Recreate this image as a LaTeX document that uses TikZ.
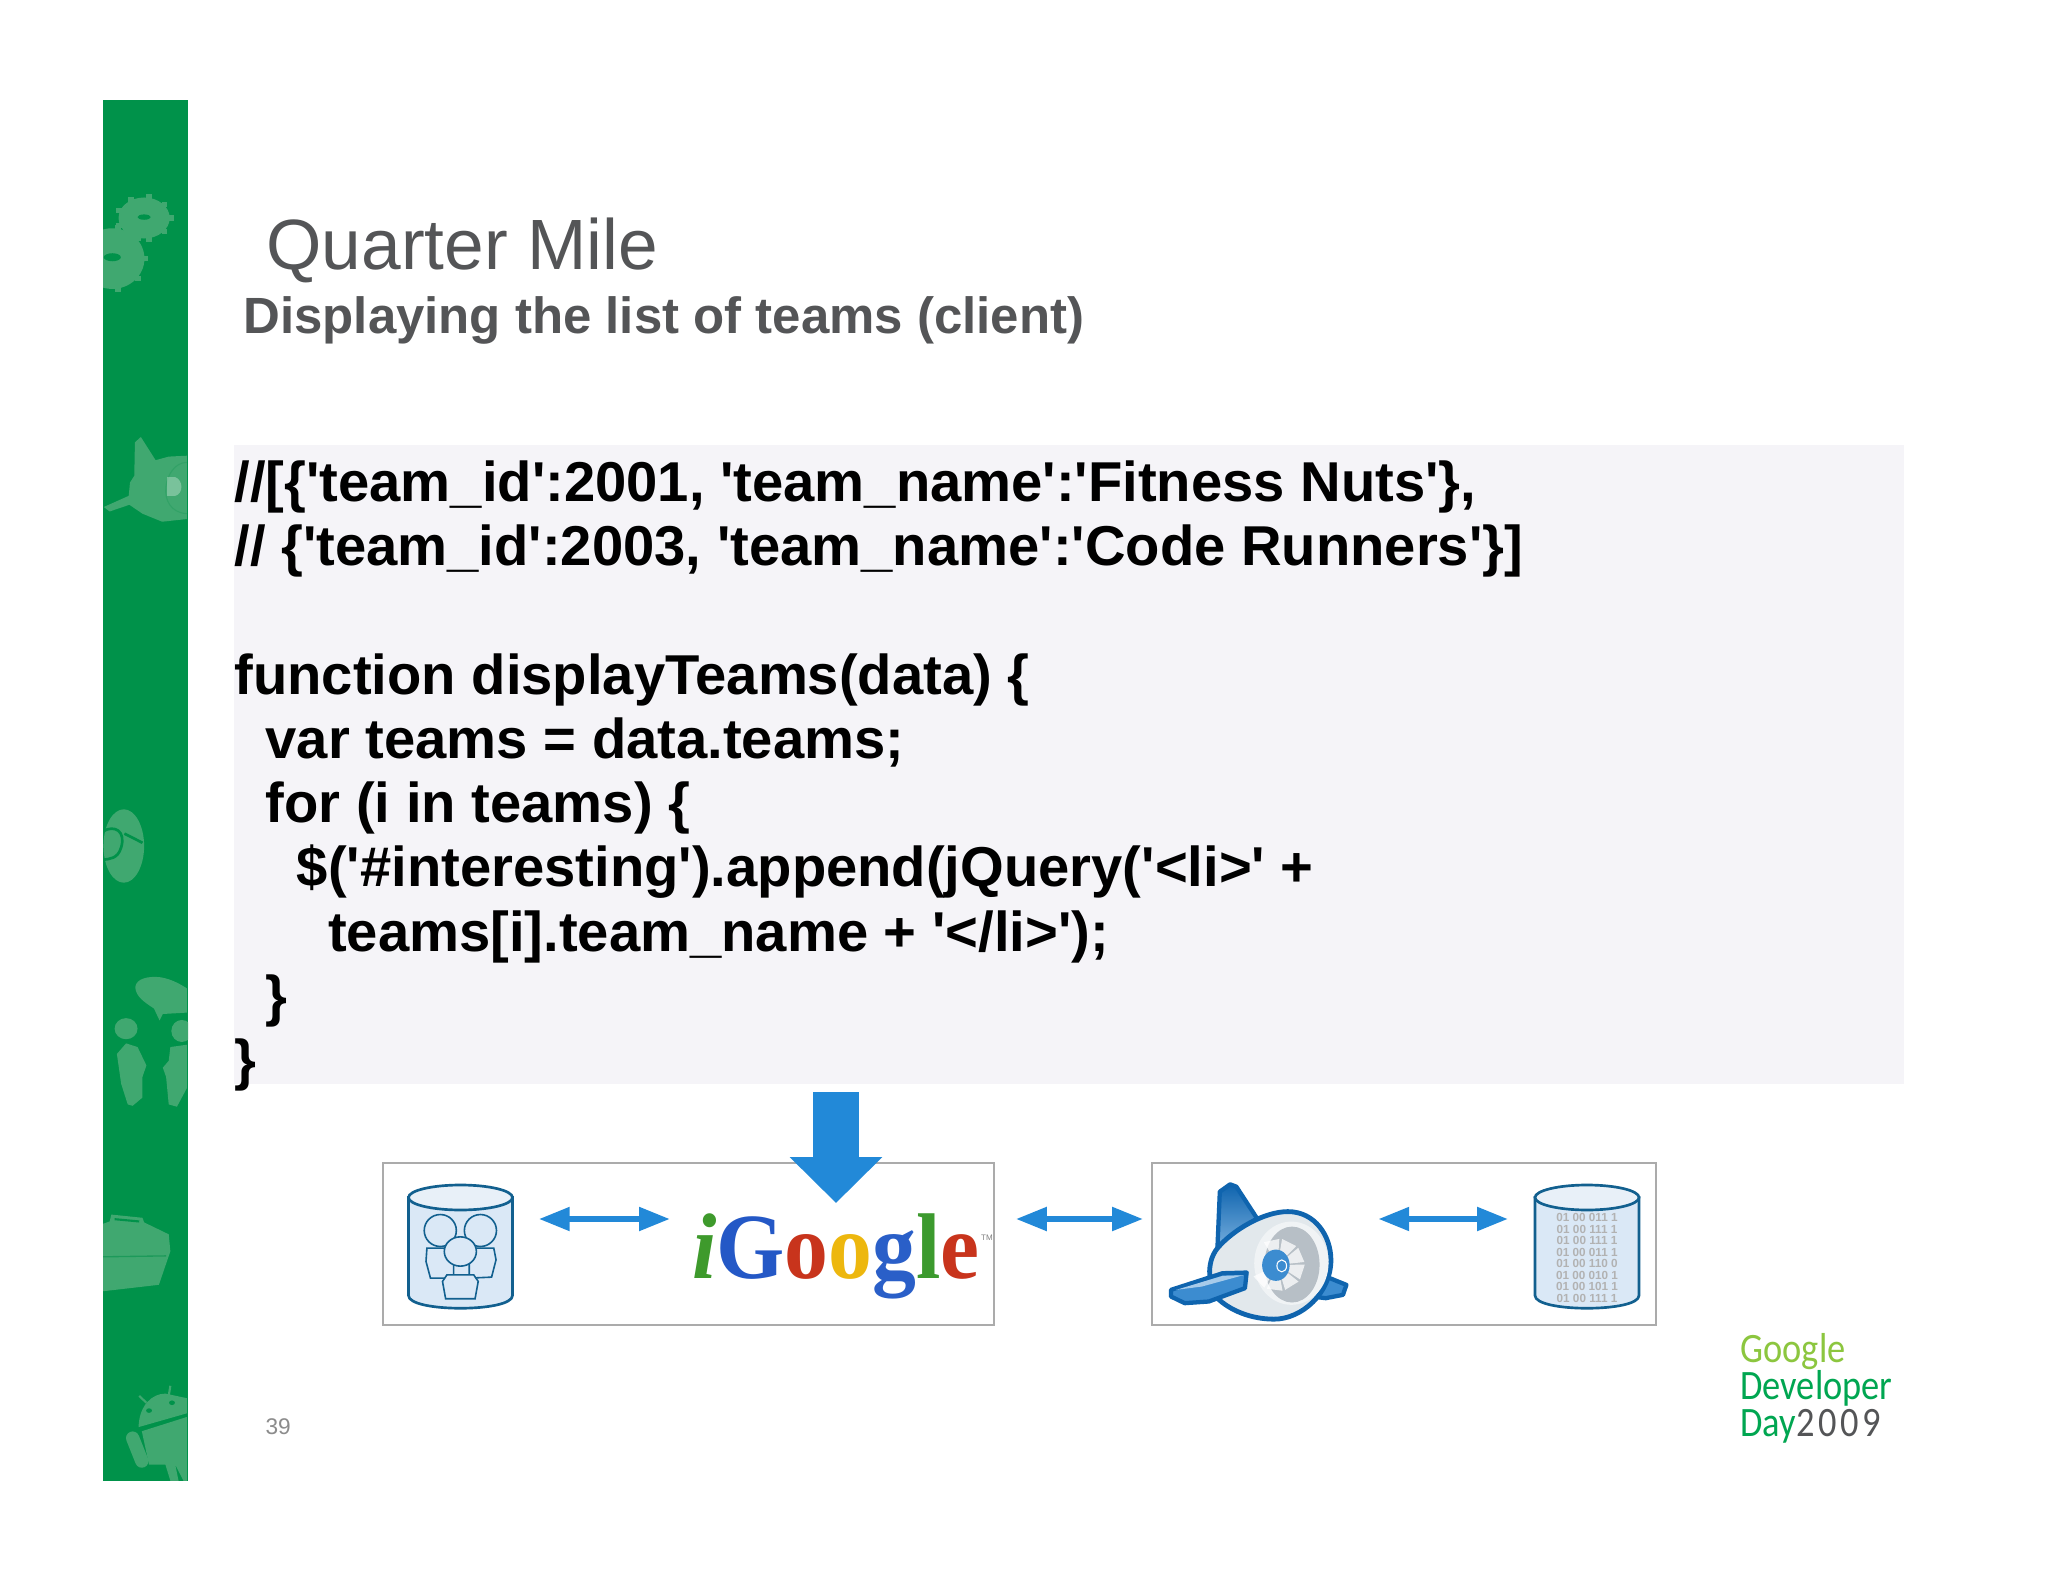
\documentclass[tikz,border=0pt]{standalone}
\usepackage{fontspec}
\usetikzlibrary{arrows.meta}
\usetikzlibrary{calc}
\newfontfamily\slidefont{Liberation Sans}
\newfontfamily\logofont{Carlito}
\newfontfamily\igooglefont{Liberation Serif}
\definecolor{barGreen}{HTML}{00924A}
\definecolor{barMark}{HTML}{40A870}
\definecolor{barDark}{HTML}{1D9A5A}
\definecolor{panelGrey}{HTML}{F5F4F8}
\definecolor{titleGrey}{HTML}{545557}
\definecolor{arrowBlue}{HTML}{2289D8}
\definecolor{boxGrey}{HTML}{ABABAB}
\definecolor{dbLine}{HTML}{12608F}
\definecolor{dbBody}{HTML}{DAE8F6}
\definecolor{dbTop}{HTML}{E8F0F8}
\definecolor{engineBlue}{HTML}{0F64AE}
\definecolor{engineFill}{HTML}{3C8CD0}
\definecolor{engineBody}{HTML}{E2E8EC}
\definecolor{engineRing}{HTML}{F0F3F5}
\definecolor{engineCore}{HTML}{B7BFC6}
\newcommand{\dbdrum}[1]{
	\begin{scope}[shift={(#1.center)}]
		\filldraw[dbsurface, fill=dbBody] (-52,-49) -- (-52,49) .. controls (-52,66) and (52,66) .. (52,49) -- (52,-49) -- cycle;
		\filldraw[dbsurface, fill=dbTop] (0,-49) ellipse (52 and 12.5);
	\end{scope}
}

\begin{document}
\begin{tikzpicture}[x=0.375pt, y=-0.375pt,
			slidetext/.style={anchor=base west, inner sep=0pt, font=\slidefont},
			framebox/.style={draw=boxGrey, line width=0.9pt, fill=white, rectangle, inner sep=0pt},
			link/.style={draw=arrowBlue, line width=2pt, {Triangle[length=11.5pt, width=8.6pt]}-{Triangle[length=11.5pt, width=8.6pt]}},
			dbnode/.style={rectangle, minimum width=39pt, minimum height=46.4pt, inner sep=0pt},
			dbsurface/.style={draw=dbLine, line width=1pt},
			person/.style={draw=dbLine, line width=0.6pt, fill=dbBody},
			gletter/.style={font=\igooglefont\bfseries\fontsize{35}{35}\selectfont}]
	\useasboundingbox (0,0) rectangle (2048,1582);
	\fill[white] (0,0) rectangle (2048,1582);

	% green side bar
	\fill[barGreen] (103,100.5) rectangle (188,1481);
	\begin{scope}
		\clip (103,100.5) rectangle (188,1481);
		\begin{scope}[shift={(90,90)}, xscale=0.328, yscale=0.446]
			% gears
			\foreach \cx/\cy/\rx/\ry in {165/287/78/46, 68/378/98/68}{
				\fill[barMark] (\cx,\cy) ellipse ({\rx} and {\ry});
				\foreach \a in {0,40,...,320}
					\fill[barMark] ({\cx+(\rx+3)*cos(\a)-9},{\cy+(\ry+2)*sin(\a)-6}) rectangle ++(18,12);
			}
			\fill[barGreen] (165,285) ellipse (20 and 6);
			\fill[barGreen] (68,375) ellipse (26 and 9);
			% plane
			\fill[barMark] (42,935) -- (118,910) -- (122,880) -- (135,865) -- (137,790) -- (155,778) -- (200,830) -- (240,822) -- (295,820) -- (295,962) -- (220,968) -- (160,950) -- (120,930) -- (60,945) -- cycle;
			\draw[barDark!40!barMark, line width=0.4pt] (295,835) .. controls (225,835) and (195,945) .. (295,950);
			\fill[white, opacity=0.3] (235,868) -- (260,868) .. controls (285,875) and (285,905) .. (260,910) -- (235,910) -- cycle;
		\end{scope}
		\begin{scope}[shift={(90,790)}, xscale=0.328, yscale=0.459]
			% disc
			\fill[barMark] (103,122) ellipse (62 and 80);
			\draw[barGreen, line width=1pt] (105,95) -- (160,115);
			\draw[barGreen, line width=1pt] (40,90) .. controls (75,75) and (110,90) .. (95,125) .. controls (85,150) and (60,150) .. (40,152);
			% speech bubble and people
			\fill[barMark] (138,430) .. controls (140,410) and (180,405) .. (215,408) .. controls (250,412) and (280,425) .. (295,432) -- (295,485) -- (222,488) -- (212,502) -- (195,476) .. controls (165,462) and (140,450) .. (138,430) -- cycle;
			\fill[barMark] (110,520) ellipse (35 and 23);
			\fill[barMark] (280,525) ellipse (32 and 24);
			\fill[barMark] (82,575) -- (110,552) -- (145,560) -- (172,600) -- (160,625) -- (160,670) -- (130,688) -- (115,685) -- (95,640) -- cycle;
			\fill[barMark] (222,605) -- (240,590) -- (245,560) -- (295,555) -- (295,650) -- (265,690) -- (240,685) -- (232,625) -- cycle;
			% briefcase
			\fill[barMark] (40,945) -- (60,940) -- (65,925) -- (160,932) -- (165,942) -- (240,968) -- (245,1005) -- (210,1078) -- (40,1092) -- cycle;
			\draw[barDark, line width=0.5pt] (40,1017) -- (232,1015);
			\draw[barGreen, line width=0.8pt] (75,935) -- (150,940);
			% android
			\fill[barMark] (148,1388) .. controls (150,1340) and (190,1315) .. (230,1315) -- (295,1325) -- (295,1358) -- cycle;
			\fill[barMark] (158,1397) -- (295,1366) -- (295,1505) -- (285,1505) -- (260,1470) -- (270,1505) -- (245,1505) -- (230,1470) -- (180,1470) -- cycle;
			\draw[barMark, line width=5pt, line cap=round] (130,1412) -- (158,1462);
			\draw[barMark, line width=0.8pt] (245,1298) -- (240,1320);
			\draw[barMark, line width=0.8pt] (150,1320) -- (172,1335);
			\fill[barGreen] (180,1352) ellipse (9 and 5);
			\fill[barGreen] (250,1335) ellipse (9 and 5);
		\end{scope}
	\end{scope}

	\node[slidetext, text=titleGrey, font=\slidefont\fontsize{26.7}{30}\selectfont] (title) at (266,270) {Quarter Mile};
	\node[slidetext, text=titleGrey, font=\slidefont\bfseries\fontsize{19.1}{22}\selectfont] (subtitle) at (243,334) {Displaying the list of teams (client)};

	\fill[panelGrey] (234,445) rectangle (1904,1084);
	\coordinate (panelbottom) at (836,1084);
	\node[anchor=north west, inner sep=0pt, align=left, text=black, font=\slidefont\bfseries\fontsize{21.07}{24.1}\selectfont] (code) at (234,460) {%
		//[\{'team\_id':2001, 'team\_name':'Fitness Nuts'\},\\
		// \{'team\_id':2003, 'team\_name':'Code Runners'\}]\\
		~\\
		function displayTeams(data) \{\\
		~~var teams = data.teams;\\
		~~for (i in teams) \{\\
		~~~~\$('\#interesting').append(jQuery('<li>' +\\
		~~~~~~teams[i].team\_name + '</li>');\\
		~~\}\\
		\}};

	% diagram at the bottom
	\node[framebox, minimum width=229pt, minimum height=60.8pt] (box1) at (688.5,1244) {};
	\node[framebox, minimum width=189pt, minimum height=60.8pt] (box2) at (1404,1244) {};
	\coordinate (rowy) at (0,1219);

	\node[dbnode] (usersdb) at (460.5,1246.5) {};
	\dbdrum{usersdb}
	\begin{scope}[shift={(360,1080)}, xscale=0.446, yscale=0.333]
		\draw[person] (150,505) -- (148,545) -- (158,595) -- (210,595) -- (210,505) -- cycle;
		\draw[person] (300,505) -- (305,540) -- (295,592) -- (245,595) -- (245,505) -- cycle;
		\draw[person] (180,452) ellipse (36 and 48);
		\draw[person] (270,452) ellipse (36 and 48);
		\draw[person] (195,585) -- (255,585) -- (265,605) -- (258,657) -- (192,657) -- (185,605) -- cycle;
		\draw[person] (225,515) ellipse (36 and 44);
	\end{scope}

	\node[inner sep=0pt, anchor=base, gletter, xscale=0.94, transform shape] (igoogle) at (836,1278) {\textit{\textcolor[HTML]{3E9A2C}{i}}\textcolor[HTML]{2458C6}{G}\textcolor[HTML]{C8341C}{o}\textcolor[HTML]{EDB70E}{o}\textcolor[HTML]{2A5FC8}{g}\textcolor[HTML]{3C9A2E}{l}\textcolor[HTML]{C8341C}{e}};
	\node[inner sep=0pt, text=gray, font=\slidefont\fontsize{3}{3}\selectfont] (igoogletm) at (987,1238) {TM};

	% engine
	\node[minimum width=66pt, minimum height=60pt, inner sep=0pt] (engine) at (1258,1246) {};
	\begin{scope}[shift={(1140,1150)}, xscale=0.344, yscale=0.333]
		\draw[draw=engineBlue, top color=engineBlue, bottom color=engineFill!70!white, line width=1.6pt, line join=round] (232,125) -- (262,103) -- (280,110) -- (340,205) -- (225,295) -- cycle;
		\draw[draw=engineBlue, fill=engineFill, line width=1.6pt, line join=round] (545,382) -- (600,405) -- (590,435) -- (540,445) -- (500,440) -- cycle;
		\draw[draw=engineBlue, fill=engineBody, line width=1.8pt] (225,295) .. controls (270,240) and (360,185) .. (430,185) .. controls (510,185) and (555,260) .. (555,330) .. controls (555,430) and (470,508) .. (390,508) .. controls (320,508) and (260,480) .. (225,445) .. controls (200,410) and (190,340) .. (225,295) -- cycle;
		\fill[engineRing] (440,340) ellipse (108 and 125);
		\fill[engineCore] (442,344) ellipse (80 and 114);
		\foreach \a in {-150,-110,...,90}
			\fill[white, rotate around={\a:(400,345)}, opacity=0.75] (400,345) -- (468,305) -- (478,350) -- cycle;
		\fill[engineFill] (395,346) ellipse (40 and 47);
		\draw[white, line width=0.4pt] (412,348) ellipse (14 and 18);
		\draw[draw=engineBlue, fill=engineFill, line width=1.6pt, line join=round] (90,420) -- (240,370) -- (310,368) -- (305,415) -- (200,455) -- (130,460) -- (90,440) -- cycle;
		\fill[engineFill!45!white] (105,420) -- (240,378) -- (300,376) -- (180,410) -- cycle;
	\end{scope}

	\node[dbnode] (appdb) at (1587,1246.5) {};
	\dbdrum{appdb}
	\node[inner sep=0pt, align=center, text=gray!60, font=\slidefont\bfseries\fontsize{4.4}{4.3}\selectfont] (appdata) at (1587,1258) {01 00 011 1\\01 00 111 1\\01 00 111 1\\01 00 011 1\\01 00 110 0\\01 00 010 1\\01 00 101 1\\01 00 111 1};

	\draw[link, shorten <=9.75pt, shorten >=8.25pt] (usersdb.east |- rowy) -- (igoogle.west |- rowy);
	\draw[link, shorten <=7.9pt, shorten >=3pt] (box1.east |- rowy) -- (box2.west |- rowy);
	\draw[link, shorten <=12pt, shorten >=10pt] (engine.east |- rowy) -- (appdb.west |- rowy);

	\coordinate (droptip) at (836,1203);
	\draw[draw=arrowBlue, line width=17.6pt, -{Triangle[length=17.25pt, width=33.75pt]}, shorten <=3pt] (panelbottom) -- (droptip);

	\node[slidetext, text=gray!90, font=\slidefont\fontsize{8.5}{10}\selectfont] (pagenum) at (265,1434) {39};
	\node[anchor=north west, inner sep=0pt, align=left, xscale=0.87, transform shape, font=\logofont\fontsize{15.7}{13.9}\selectfont] (logo) at (1740,1333) {\textcolor[HTML]{8CC63F}{Google}\\\textcolor[HTML]{00A651}{Developer}\\\textcolor[HTML]{00A651}{Day}\textcolor{titleGrey}{\addfontfeature{LetterSpace=10}2009}};
\end{tikzpicture}
\end{document}
